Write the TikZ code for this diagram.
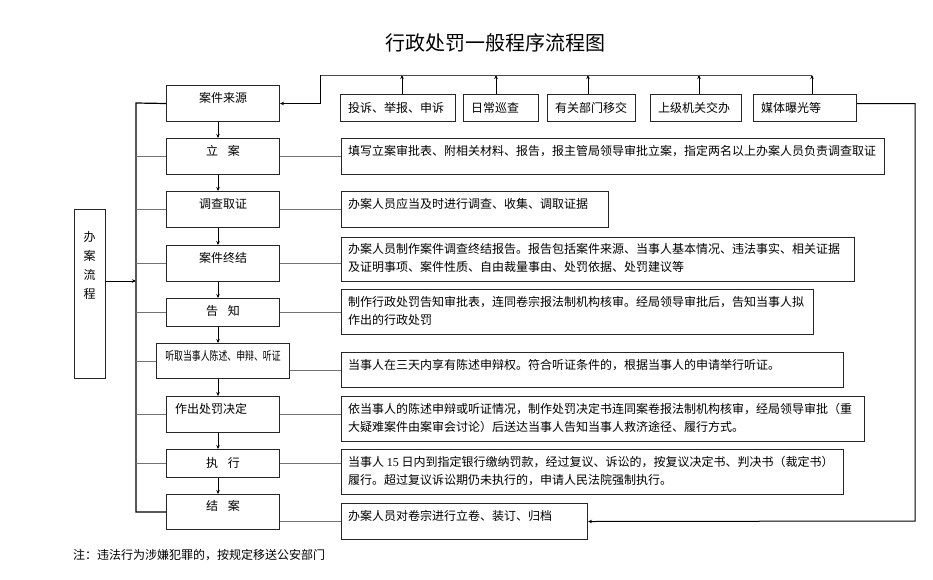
\documentclass[tikz,border=0pt]{standalone}
\usepackage{fontspec}
\setmainfont{Noto Sans CJK SC}
\newfontfamily\lserif{Liberation Serif}
\usetikzlibrary{arrows.meta}
\tikzset{
  box/.style={draw=black!85, line width=1pt, inner sep=0pt, anchor=north west, fill=white},
  lbl/.style={inner sep=0pt, font=\fontsize{12}{18}\selectfont},
  dtxt/.style={lbl, anchor=base west, align=left},
  stxt/.style={lbl, anchor=base},
  conn/.style={draw=black!55, line width=1pt},
  busl/.style={draw=black, line width=1.2pt},
  arr/.style={draw=black, line width=1pt, -{Stealth[length=4pt,width=3.5pt]}},
}
\newcommand\bx[5]{\node[box, minimum width=#4pt, minimum height=#5pt] (#1) at (#2,#3) {};}
\begin{document}
\begin{tikzpicture}[x=1pt,y=-1pt]
\useasboundingbox (0,0) rectangle (933,579);
% title
\node[inner sep=0pt, font=\fontsize{20}{24}\selectfont] (title) at (495,43) {行政处罚一般程序流程图};
% step boxes
\bx{s1}{166}{85}{113}{36}
\bx{s2}{166}{138}{113}{36}
\bx{s3}{166}{191}{113}{36}
\bx{s4}{166}{245}{113}{36}
\bx{s5}{166}{298}{113}{28}
\bx{s6}{156}{343}{133}{35}
\bx{s7}{166}{396}{113}{36}
\bx{s8}{166}{449}{113}{28}
\bx{s9}{166}{494}{113}{35}
\bx{lb}{74}{209}{31}{169}
% source boxes
\bx{src1}{340}{94}{115}{27}
\bx{src2}{463}{94}{75}{27}
\bx{src3}{547}{94}{88}{27}
\bx{src4}{650}{94}{91}{27}
\bx{src5}{753}{94}{103}{27}
% description boxes
\bx{d2}{341}{138}{543}{36}
\bx{d3}{341}{191}{267}{36}
\bx{d4}{341}{237}{513}{44}
\bx{d5}{341}{289}{472}{45}
\bx{d6}{341}{352}{502}{35}
\bx{d7}{341}{396}{523}{45}
\bx{d8}{341}{449}{502}{45}
\bx{d9}{341}{503}{246}{36}
% step texts
\node[stxt] (ts1) at ([yshift=-17.5pt]s1.north) {案件来源};
\node[stxt] (ts2) at ([yshift=-17.5pt]s2.north) {立\hspace{10pt}案};
\node[stxt] (ts3) at ([yshift=-17.5pt]s3.north) {调查取证};
\node[stxt] (ts4) at ([yshift=-17.5pt]s4.north) {案件终结};
\node[stxt] (ts5) at ([yshift=-17.5pt]s5.north) {告\hspace{10pt}知};
\node[stxt] (ts6) at ([yshift=-17.5pt]s6.north) {\scalebox{0.74}[1]{听取当事人陈述、申辩、听证}};
\node[dtxt] (ts7) at ([xshift=9pt,yshift=-17.5pt]s7.north west) {作出处罚决定};
\node[stxt] (ts8) at ([yshift=-18.5pt]s8.north) {执\hspace{10pt}行};
\node[stxt] (ts9) at ([yshift=-16.5pt]s9.north) {结\hspace{10pt}案};
\node[lbl, align=center, font=\fontsize{12}{19}\selectfont] (tlb) at (89.5,265.5) {办\\案\\流\\程};
% source texts
\node[dtxt] (tsrc1) at ([xshift=8pt,yshift=-18.5pt]src1.north west) {投诉、举报、申诉};
\node[dtxt] (tsrc2) at ([xshift=8pt,yshift=-18.5pt]src2.north west) {日常巡查};
\node[dtxt] (tsrc3) at ([xshift=8pt,yshift=-18.5pt]src3.north west) {有关部门移交};
\node[dtxt] (tsrc4) at ([xshift=8pt,yshift=-18.5pt]src4.north west) {上级机关交办};
\node[dtxt] (tsrc5) at ([xshift=8pt,yshift=-18.5pt]src5.north west) {媒体曝光等};
% description texts (base anchor = last line baseline)
\node[dtxt] (td2) at ([xshift=7pt,yshift=-17.5pt]d2.north west) {填写立案审批表、附相关材料、报告，报主管局领导审批立案，指定两名以上办案人员负责调查取证};
\node[dtxt] (td3) at ([xshift=7pt,yshift=-17.5pt]d3.north west) {办案人员应当及时进行调查、收集、调取证据};
\node[dtxt] (td4) at ([xshift=7pt,yshift=-34.5pt]d4.north west) {办案人员制作案件调查终结报告。报告包括案件来源、当事人基本情况、违法事实、相关证据\\及证明事项、案件性质、自由裁量事由、处罚依据、处罚建议等};
\node[dtxt] (td5) at ([xshift=7pt,yshift=-35.5pt]d5.north west) {制作行政处罚告知审批表，连同卷宗报法制机构核审。经局领导审批后，告知当事人拟\\作出的行政处罚};
\node[dtxt] (td6) at ([xshift=7pt,yshift=-17.5pt]d6.north west) {当事人在三天内享有陈述申辩权。符合听证条件的，根据当事人的申请举行听证。};
\node[dtxt] (td7) at ([xshift=7pt,yshift=-35.5pt]d7.north west) {依当事人的陈述申辩或听证情况，制作处罚决定书连同案卷报法制机构核审，经局领导审批（重\\大疑难案件由案审会讨论）后送达当事人告知当事人救济途径、履行方式。};
\node[dtxt] (td8) at ([xshift=7pt,yshift=-35.5pt]d8.north west) {当事人 {\lserif 15} 日内到指定银行缴纳罚款，经过复议、诉讼的，按复议决定书、判决书（裁定书）\\履行。超过复议诉讼期仍未执行的，申请人民法院强制执行。};
\node[dtxt] (td9) at ([xshift=7pt,yshift=-17.5pt]d9.north west) {办案人员对卷宗进行立卷、装订、归档};
% footer
\node[lbl, anchor=base west] (note) at (73,559.5) {注：违法行为涉嫌犯罪的，按规定移送公安部门};
% coordinates
\coordinate (bt) at (136,103);
\coordinate (bb) at (136,512);
\coordinate (ax) at (218,0);
\coordinate (la) at (105,281);
\coordinate (tc) at (320,75);
\coordinate (u1) at (402,75);
\coordinate (u2) at (496,75);
\coordinate (u3) at (588,75);
\coordinate (u4) at (699,75);
\coordinate (u5) at (812,75);
\coordinate (rc) at (915,521);
% bus
\draw[busl] (s1.west) -- (bt) -- (bb) -- (s9.west);
\foreach \i in {2,3,4,5,6,7,8} {\draw[conn] (s\i.west) -- (s\i.west -| bt);}
\draw[arr] (la) -- (la -| bt);
% step arrows
\foreach \a/\b in {s1/s2,s2/s3,s3/s4,s4/s5,s5/s6,s6/s7,s7/s8,s8/s9} {\draw[arr] (\a.south -| ax) -- (\b.north -| ax);}
% step to description
\foreach \i in {2,3,4,5,7,8} {\draw[conn] (s\i.east) -- (s\i.east -| d\i.west);}
\draw[conn] (s6.east |- d6.west) -- (d6.west);
\draw[conn] (s9.east |- d9.west) -- (d9.west);
% sources
\foreach \i in {1,2,3,4,5} {\draw[arr] (src\i.north -| u\i) -- (u\i);}
\draw[conn, draw=black!70] (u5) -- (tc);
\draw[arr] (tc) |- (s1.east);
\draw[arr] ([yshift=4.5pt]src5.east) -| (rc) -- (d9.east);
\end{tikzpicture}
\end{document}
